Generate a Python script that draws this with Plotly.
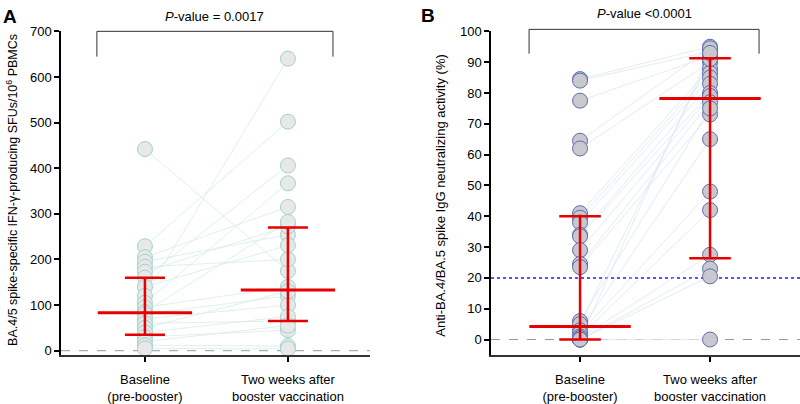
import plotly.graph_objects as go

# ---------------- data ----------------
categories = ["Baseline<br>(pre-booster)", "Two weeks after<br>booster vaccination"]

# Panel A: IFN-gamma SFUs / 10^6 PBMCs (paired per subject)
baseline_A = [442, 229, 205, 195, 184, 173, 160, 140, 120, 105, 95, 85, 80, 70, 60, 50, 40, 30, 20, 12, 5]
followup_A = [175, 502, 315, 254, 200, 273, 406, 231, 640, 367, 140, 282, 120, 100, 65, 130, 75, 45, 55, 10, 4]
median_A = [83, 133]
q1_A = [35, 65]
q3_A = [160, 270]

# Panel B: neutralizing activity (%) (paired per subject)
baseline_B = [84.5, 84, 77.5, 64.5, 62, 41, 39.5, 38, 34, 33.5, 29, 24.5, 23.5, 6, 5, 3, 2, 1, 0.5, 0, 0, 0, 0]
followup_B = [95, 93.5, 92, 94.5, 90, 88, 86.5, 85, 83, 80, 79, 77, 73, 75, 91, 65, 48, 42, 27.5, 23, 20.5, 93, 0]
median_B = [4.2, 78.2]
q1_B = [0, 26.4]
q3_B = [40, 91.3]

yticks_A = [0, 100, 200, 300, 400, 500, 600, 700]
yticks_B = [0, 10, 20, 30, 40, 50, 60, 70, 80, 90, 100]
cutoff_B = 20

FONT = "Arial, Liberation Sans, sans-serif"
RED = "#e60000"
W, H = 800, 404

fig = go.Figure()


def add_panel(xa, ya, base, foll, med, q1, q3, mfill, medge, lcol, wide, cap):
    # connecting lines
    for b, f in zip(base, foll):
        fig.add_trace(go.Scatter(x=[0, 1], y=[b, f], mode="lines",
                                 line=dict(color=lcol, width=0.8),
                                 xaxis=xa, yaxis=ya, hoverinfo="skip", showlegend=False))
    # points
    fig.add_trace(go.Scatter(x=[0] * len(base) + [1] * len(foll), y=base + foll, mode="markers",
                             marker=dict(size=15, color=mfill, line=dict(color=medge, width=1)),
                             xaxis=xa, yaxis=ya, showlegend=False))
    # median / IQR
    for i in range(2):
        fig.add_trace(go.Scatter(x=[i, i], y=[q1[i], q3[i]], mode="lines",
                                 line=dict(color=RED, width=2.5), xaxis=xa, yaxis=ya, showlegend=False))
        fig.add_trace(go.Scatter(x=[i - wide, i + wide], y=[med[i], med[i]], mode="lines",
                                 line=dict(color=RED, width=3), xaxis=xa, yaxis=ya, showlegend=False))
        for q in (q1[i], q3[i]):
            fig.add_trace(go.Scatter(x=[i - cap, i + cap], y=[q, q], mode="lines",
                                     line=dict(color=RED, width=2.5), xaxis=xa, yaxis=ya, showlegend=False))


add_panel("x", "y", baseline_A, followup_A, median_A, q1_A, q3_A,
          "#e8e8e8", "#9fd3ca", "#d6ece8", 0.33, 0.14)
add_panel("x2", "y2", baseline_B, followup_B, median_B, q1_B, q3_B,
          "#c8c8ce", "#5b6fae", "#dbe6f3", 0.39, 0.16)

ydom = [1 - 358 / H, 1 - 25 / H]
axis_common = dict(showgrid=False, zeroline=False, ticks="outside", ticklen=5, tickwidth=1.5,
                   tickcolor="black", tickfont=dict(family=FONT, size=13, color="black"))

fig.update_layout(
    width=W, height=H, margin=dict(l=0, r=0, t=0, b=0),
    plot_bgcolor="white", paper_bgcolor="white",
    font=dict(family=FONT, color="black"),
    xaxis=dict(domain=[61 / W, 370 / W], range=[-0.587, 1.574], tickvals=[0, 1],
               ticktext=categories, showline=True, linecolor="#333", linewidth=2,
               ticklabelstandoff=6, **axis_common),
    yaxis=dict(domain=ydom, range=[-10, 700], tickvals=yticks_A, showline=True,
               linecolor="black", linewidth=1.5, **axis_common),
    xaxis2=dict(domain=[491 / W, 1.0], range=[-0.685, 1.692], tickvals=[0, 1],
                ticktext=categories, showline=True, linecolor="#333", linewidth=2,
                anchor="y2", ticklabelstandoff=6, **axis_common),
    yaxis2=dict(domain=ydom, range=[-5.1, 100], tickvals=yticks_B, showline=True,
                linecolor="black", linewidth=1.5, anchor="x2", **axis_common),
)

# reference lines
fig.add_shape(type="line", xref="x domain", yref="y", x0=0, x1=1, y0=0, y1=0,
              line=dict(color="#999", width=1, dash="dash"), layer="below")
fig.add_shape(type="line", xref="x2 domain", yref="y2", x0=0, x1=1, y0=0, y1=0,
              line=dict(color="#999", width=1, dash="dash"), layer="below")
fig.add_shape(type="line", xref="x2 domain", yref="y2", x0=0, x1=1, y0=cutoff_B, y1=cutoff_B,
              line=dict(color="#1a1aff", width=1.5, dash="dot"), layer="below")


# significance brackets (x in data units, y in paper units)
def bracket(xref, xl, xr, ytop_px, ybot_px):
    yt, yb = 1 - ytop_px / H, 1 - ybot_px / H
    for x0, y0, x1, y1 in [(xl, yb, xl, yt), (xl, yt, xr, yt), (xr, yt, xr, yb)]:
        fig.add_shape(type="line", xref=xref, yref="paper", x0=x0, y0=y0, x1=x1, y1=y1,
                      line=dict(color="#333", width=1))


bracket("x", -0.336, 1.315, 25, 51)
bracket("x2", -0.392, 1.377, 23, 48)

ann = [
    dict(text="<i>P</i>-value = 0.0017", x=214 / W, y=1 - 10 / H, size=13),
    dict(text="<i>P</i>-value <0.0001", x=644 / W, y=1 - 7 / H, size=13),
    dict(text="<b>A</b>", x=10 / W, y=1 - 10 / H, size=19),
    dict(text="<b>B</b>", x=428 / W, y=1 - 9 / H, size=19),
]
for a in ann:
    fig.add_annotation(text=a["text"], x=a["x"], y=a["y"], xref="paper", yref="paper",
                       showarrow=False, xanchor="center", yanchor="middle",
                       font=dict(family=FONT, size=a["size"], color="black"))

fig.add_annotation(text="BA.4/5 spike-specific IFN-γ-producing SFUs/10<sup>6</sup> PBMCs",
                   x=12 / W, y=1 - 188 / H, xref="paper", yref="paper", showarrow=False,
                   textangle=-90, xanchor="center", yanchor="middle",
                   font=dict(family=FONT, size=12.5, color="black"))
fig.add_annotation(text="Anti-BA.4/BA.5 spike IgG neutralizing activity (%)",
                   x=441 / W, y=1 - 194 / H, xref="paper", yref="paper", showarrow=False,
                   textangle=-90, xanchor="center", yanchor="middle",
                   font=dict(family=FONT, size=13, color="black"))

fig.write_html("out.html", config={"displayModeBar": False},
               post_script="document.body.style.margin='0';")
